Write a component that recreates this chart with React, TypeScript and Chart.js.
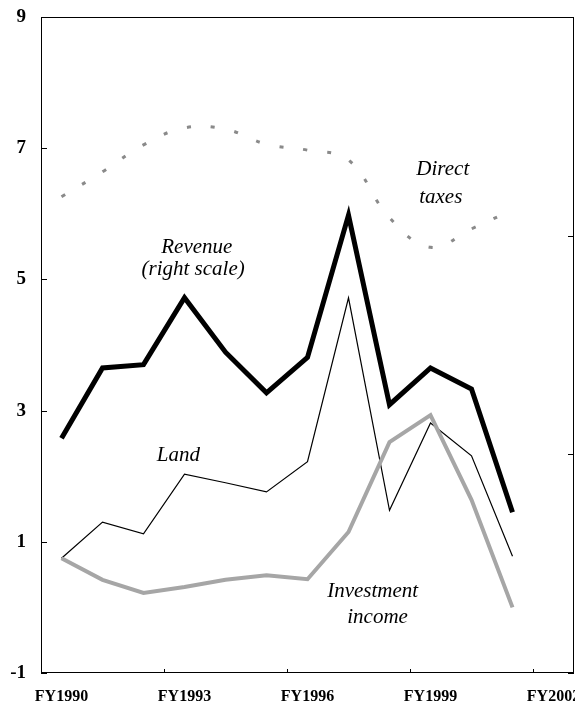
import React, { useEffect, useRef } from "react";
import Chart from "chart.js/auto";

const years = [1990, 1991, 1992, 1993, 1994, 1995, 1996, 1997, 1998, 1999, 2000, 2001];
const revenue = [2.58, 3.65, 3.7, 4.72, 3.89, 3.27, 3.81, 5.98, 3.09, 3.65, 3.33, 1.45];
const land = [0.75, 1.3, 1.12, 2.03, 1.9, 1.76, 2.22, 4.72, 1.48, 2.81, 2.31, 0.78];
const investmentIncome = [0.75, 0.42, 0.22, 0.31, 0.42, 0.49, 0.43, 1.15, 2.52, 2.93, 1.64, 0.0];
const directTaxes = [6.26, 6.64, 7.05, 7.31, 7.29, 7.06, 6.97, 6.82, 5.94, 5.49, 5.77, 6.06];

const xTickYears = [1990, 1993, 1996, 1999, 2002];
const yTicks = [-1, 1, 3, 5, 7, 9];
const rightTicks = [0, 1, 2, 3];
const bottomMarks = [1992.5, 1995.5, 1998.5, 2001.5];

const annotations = [
  { text: "Direct", x: 1999.3, y: 6.59 },
  { text: "taxes", x: 1999.25, y: 6.16 },
  { text: "Revenue", x: 1993.3, y: 5.4 },
  { text: "(right scale)", x: 1993.21, y: 5.07 },
  { text: "Land", x: 1992.85, y: 2.23 },
  { text: "Investment", x: 1997.59, y: 0.16 },
  { text: "income", x: 1997.71, y: -0.24 },
];

const pts = (vals: number[]) => years.map((yr, i) => ({ x: yr, y: vals[i] }));

const framePlugin = {
  id: "frameAndText",
  afterDraw(chart: any) {
    const { ctx, chartArea, scales } = chart;
    const { left, right, top, bottom } = chartArea;
    ctx.save();
    ctx.strokeStyle = "#000";
    ctx.lineWidth = 1;
    ctx.strokeRect(left + 0.5, top + 0.5, right - left - 1, bottom - top - 1);
    ctx.beginPath();
    yTicks.forEach((v) => {
      const py = Math.round(scales.y.getPixelForValue(v)) + 0.5;
      ctx.moveTo(left, py);
      ctx.lineTo(left + 6, py);
    });
    rightTicks.forEach((v) => {
      const py = Math.round(scales.y2.getPixelForValue(v)) + 0.5;
      ctx.moveTo(right, py);
      ctx.lineTo(right - 6, py);
    });
    bottomMarks.forEach((v) => {
      const px = Math.round(scales.x.getPixelForValue(v)) + 0.5;
      ctx.moveTo(px, bottom);
      ctx.lineTo(px, bottom - 4);
    });
    ctx.stroke();

    ctx.fillStyle = "#000";
    ctx.font = "italic 21px 'Liberation Serif', 'Times New Roman', serif";
    ctx.textAlign = "center";
    ctx.textBaseline = "alphabetic";
    annotations.forEach((a) => {
      ctx.fillText(a.text, scales.x.getPixelForValue(a.x), scales.y.getPixelForValue(a.y));
    });
    ctx.restore();
  },
};

export default function App() {
  const ref = useRef<HTMLCanvasElement | null>(null);
  useEffect(() => {
    if (!ref.current) return;
    const chart = new Chart(ref.current, {
      type: "line",
      data: {
        datasets: [
          {
            label: "Direct taxes",
            data: pts(directTaxes),
            borderColor: "#8a8a8a",
            borderWidth: 3,
            borderDash: [4, 20],
            tension: 0.4,
            pointRadius: 0,
            yAxisID: "y",
          },
          {
            label: "Investment income",
            data: pts(investmentIncome),
            borderColor: "#a6a6a6",
            borderWidth: 4,
            tension: 0,
            pointRadius: 0,
            yAxisID: "y",
          },
          {
            label: "Land",
            data: pts(land),
            borderColor: "#000",
            borderWidth: 1.2,
            tension: 0,
            pointRadius: 0,
            yAxisID: "y",
          },
          {
            label: "Revenue (right scale)",
            data: pts(revenue),
            borderColor: "#000",
            borderWidth: 5,
            borderJoinStyle: "miter",
            tension: 0,
            pointRadius: 0,
            yAxisID: "y",
          },
        ],
      },
      options: {
        responsive: false,
        animation: false,
        layout: { padding: { top: 17, left: 0, right: 0, bottom: 0 } },
        plugins: { legend: { display: false }, tooltip: { enabled: false } },
        scales: {
          x: {
            type: "linear",
            min: 1989.5,
            max: 2002.5,
            grid: { display: false, drawTicks: false },
            border: { display: false },
            afterBuildTicks: (scale: any) => {
              scale.ticks = xTickYears.map((v) => ({ value: v }));
            },
            afterFit: (scale: any) => {
              scale.height = 34;
              scale.paddingLeft = 0;
              scale.paddingRight = 0;
            },
            ticks: {
              autoSkip: false,
              maxRotation: 0,
              padding: 14,
              color: "#000",
              font: { family: "'Liberation Serif', serif", size: 16, weight: "bold" },
              callback: (v: any) => "FY" + v,
            },
          },
          y: {
            position: "left",
            min: -1,
            max: 9,
            grid: { display: false, drawTicks: false },
            border: { display: false },
            afterBuildTicks: (scale: any) => {
              scale.ticks = yTicks.map((v) => ({ value: v }));
            },
            afterFit: (scale: any) => {
              scale.width = 41;
              scale.paddingTop = 0;
              scale.paddingBottom = 0;
            },
            ticks: {
              padding: 15,
              color: "#000",
              font: { family: "'Liberation Serif', serif", size: 19, weight: "bold" },
            },
          },
          y2: {
            position: "right",
            min: 0,
            max: 3,
            grid: { display: false, drawTicks: false },
            border: { display: false },
            ticks: { display: false, stepSize: 1 },
            afterFit: (scale: any) => {
              scale.width = 1;
              scale.paddingTop = 0;
              scale.paddingBottom = 0;
            },
          },
        },
      },
      plugins: [framePlugin],
    } as any);
    return () => chart.destroy();
  }, []);
  return (
    <div style={{ position: "absolute", left: 0, top: 0, width: 575, height: 707, background: "#fff" }}>
      <canvas ref={ref} width={575} height={707} />
    </div>
  );
}
